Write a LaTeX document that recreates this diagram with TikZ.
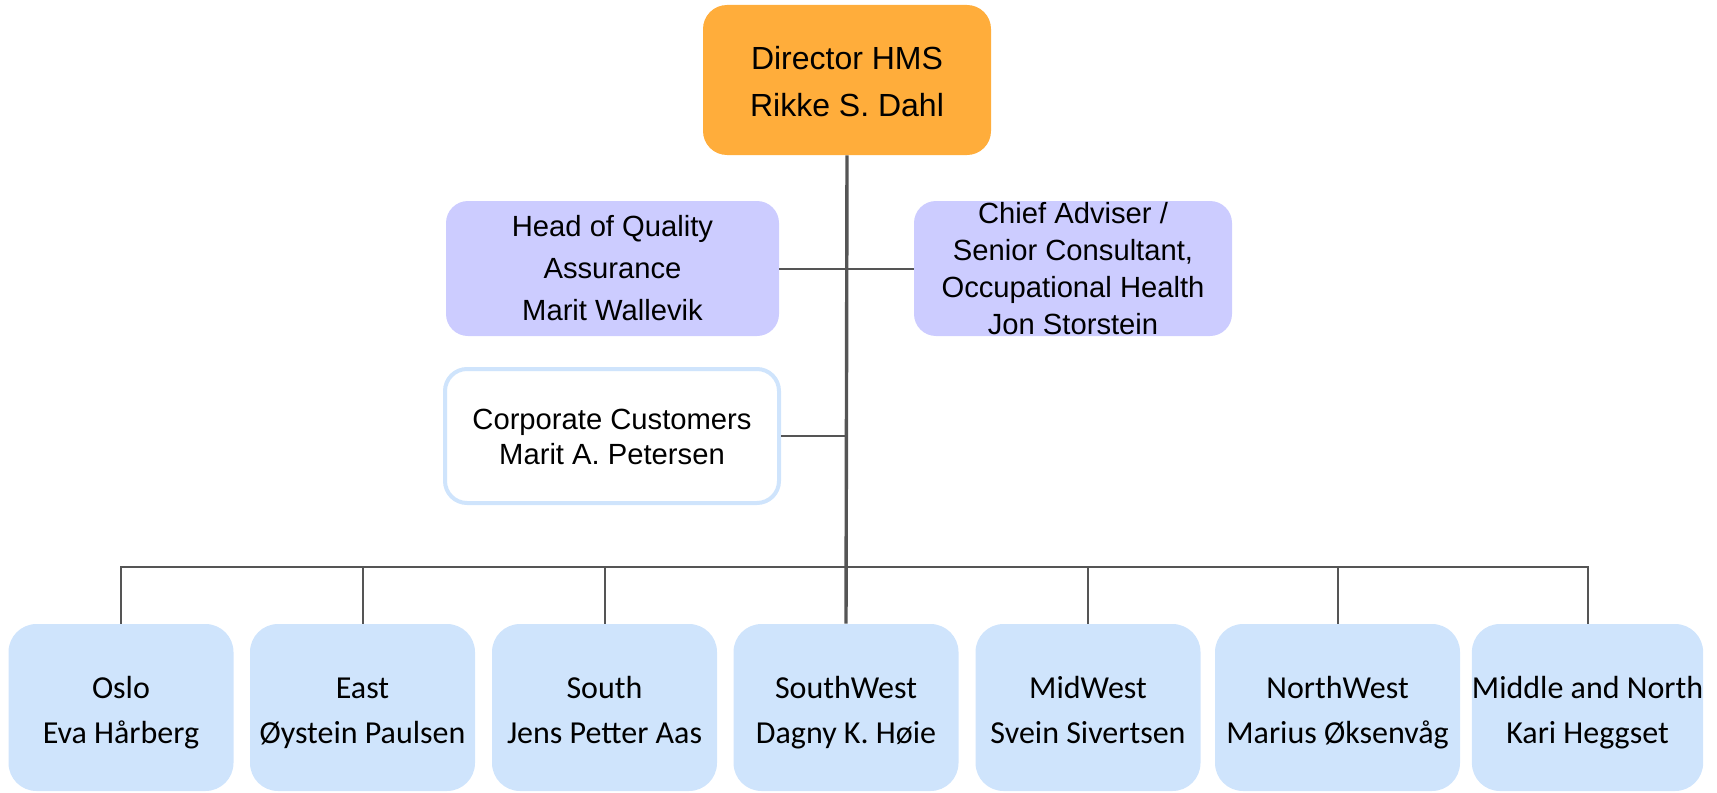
\documentclass[tikz,border=0pt]{standalone}
\usepackage{fontspec}
\setmainfont{Liberation Sans}
\newfontfamily\calibrifont{Carlito}
\definecolor{dirorange}{RGB}{255,173,59}
\definecolor{lavender}{RGB}{204,204,255}
\definecolor{paleblue}{RGB}{207,228,252}
\definecolor{linegray}{RGB}{85,85,85}
\newcommand\tophead[1]{\rule{0pt}{#1}}
\begin{document}
\begin{tikzpicture}[x=0.5pt,y=-0.5pt,
  box/.style={rectangle, inner sep=0pt, align=center, text=black},
  dirbox/.style={box, fill=dirorange, rounded corners=12pt, minimum width=144pt, minimum height=75pt,
    font=\fontsize{16}{23.5}\selectfont},
  staffbox/.style={box, fill=lavender, rounded corners=11pt, minimum height=67.5pt,
    font=\fontsize{14.6}{21}\selectfont},
  corpbox/.style={box, fill=white, draw=paleblue, line width=2pt, rounded corners=11pt,
    minimum width=167pt, minimum height=67pt, font=\fontsize{14.6}{17.5}\selectfont},
  regbox/.style={box, fill=paleblue, rounded corners=14pt, minimum width=112.5pt, minimum height=83.5pt,
    font=\calibrifont\fontsize{16}{22.5}\selectfont},
  conn/.style={draw=linegray, line width=1pt},
  trunk/.style={draw=linegray, line width=1.7pt}
]
\useasboundingbox (0,0) rectangle (1717,792);

\node[dirbox] (dir) at (847,80) {\tophead{19.8pt}Director HMS\\\strut Rikke S. Dahl};

\node[staffbox, minimum width=166.5pt] (qa) at (612.5,268.5) {\tophead{16.5pt}Head of Quality\\Assurance\\Marit Wallevik\strut};
\node[staffbox, minimum width=159pt, font=\fontsize{14.6}{18.5}\selectfont] (chief) at (1073,268.5)
  {Chief Adviser /\\Senior Consultant,\\Occupational Health\\Jon Storstein};

\node[corpbox] (corp) at (612,436) {\tophead{16pt}Corporate Customers\\\strut Marit A. Petersen};

\node[regbox] (oslo) at (121,707.5) {\tophead{20.15pt}Oslo\\\strut Eva Hårberg};
\node[regbox] (east) at (362.5,707.5) {\tophead{20.15pt}East\\\strut Øystein Paulsen};
\node[regbox] (south) at (604.5,707.5) {\tophead{20.15pt}South\\\strut Jens Petter Aas};
\node[regbox] (sw) at (846,707.5) {\tophead{20.15pt}SouthWest\\\strut Dagny K. Høie};
\node[regbox] (mw) at (1088,707.5) {\tophead{20.15pt}MidWest\\\strut Svein Sivertsen};
\node[regbox, minimum width=122.5pt] (nw) at (1337.5,707.5) {\tophead{20.15pt}NorthWest\\\strut Marius Øksenvåg};
\node[regbox] (mn) at (1587.5,707.5) {\tophead{20.15pt}Middle and North\\\strut Kari Heggset};

\coordinate (bus) at (846,567);

% connectors
\draw[conn] (qa.east) -- (chief.west);
\draw[conn] (corp.east) -- (corp.east -| dir.south);
\draw[conn] (oslo.north) -- (oslo.north |- bus) -- (mn.north |- bus) -- (mn.north);
\draw[conn] (east.north) -- (east.north |- bus);
\draw[conn] (south.north) -- (south.north |- bus);
\draw[conn] (mw.north) -- (mw.north |- bus);
\draw[conn] (nw.north) -- (nw.north |- bus);
\draw[trunk] (dir.south) -- (sw.north);
\end{tikzpicture}
\end{document}
